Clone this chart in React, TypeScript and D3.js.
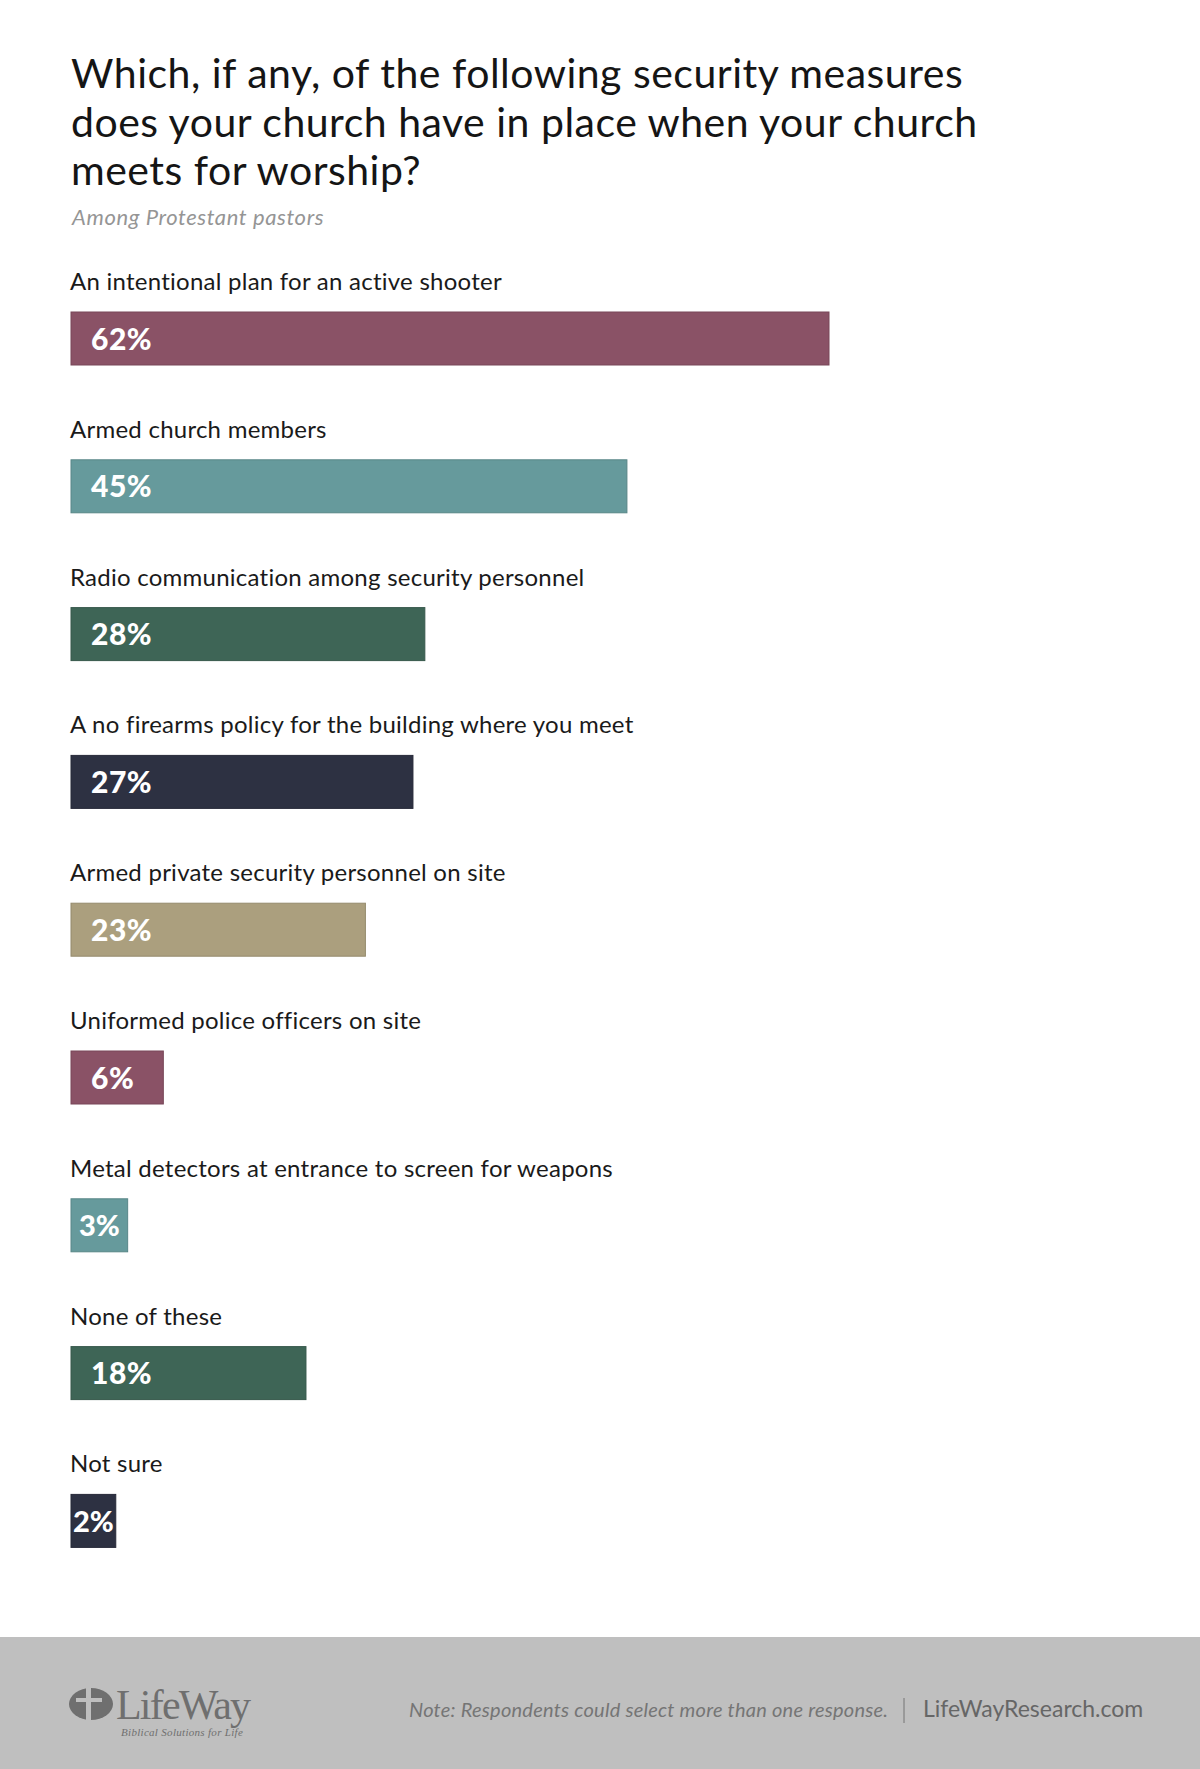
import * as d3 from "d3";

const categories = [
  "An intentional plan for an active shooter",
  "Armed church members",
  "Radio communication among security personnel",
  "A no firearms policy for the building where you meet",
  "Armed private security personnel on site",
  "Uniformed police officers on site",
  "Metal detectors at entrance to screen for weapons",
  "None of these",
  "Not sure",
];
const values = [62, 45, 28, 27, 23, 6, 3, 18, 2];
const barColors = [
  "#8a5266",
  "#669a9c",
  "#3e6556",
  "#2d3142",
  "#ab9f7e",
  "#8a5266",
  "#669a9c",
  "#3e6556",
  "#2d3142",
];

const titleLines = [
  "Which, if any, of the following security measures",
  "does your church have in place when your church",
  "meets for worship?",
];
const subtitle = "Among Protestant pastors";
const note = "Note: Respondents could select more than one response.";
const site = "LifeWayResearch.com";

const W = 1200;
const H = 1769;
const left = 71;
const font = "Lato, 'Open Sans', sans-serif";

export default function App() {
  // rangées : libellé au-dessus, barre en dessous
  const y = d3
    .scaleBand<string>()
    .domain(categories)
    .range([290, 290 + categories.length * 147.8]);

  const x = d3
    .scaleLinear()
    .domain([0, d3.max(values) || 0])
    .range([21, 758]);

  const barH = 53;

  return (
    <svg
      width={W}
      height={H}
      style={{ display: "block", position: "absolute", left: 0, top: 0 }}
    >
      <rect width={W} height={H} fill="#ffffff" />

      {titleLines.map((t, i) => (
        <text
          key={t}
          x={left}
          y={88 + i * 48.5}
          fontFamily={font}
          fontSize={41}
          letterSpacing={0.5}
          fill="#151515"
        >
          {t}
        </text>
      ))}
      <text
        x={left + 1}
        y={225}
        fontFamily={font}
        fontSize={22}
        fontStyle="italic"
        letterSpacing={0.6}
        fill="#959595"
      >
        {subtitle}
      </text>

      {categories.map((c, i) => {
        const top = (y(c) || 0) + 22;
        const w = x(values[i]);
        const narrow = w < 80;
        return (
          <g key={c}>
            <text
              x={left - 1}
              y={y(c) || 0}
              fontFamily={font}
              fontSize={24}
              letterSpacing={0.25}
              fill="#1a1a1a"
            >
              {c}
            </text>
            <rect
              x={left}
              y={top}
              width={w}
              height={barH}
              fill={barColors[i]}
              stroke={d3.color(barColors[i])?.darker(0.4).toString()}
              strokeWidth={1}
            />
            <text
              x={narrow ? left + w / 2 : left + 20}
              y={top + barH / 2 + 11}
              textAnchor={narrow ? "middle" : "start"}
              fontFamily={font}
              fontSize={narrow ? 29 : 30}
              fontWeight={900}
              letterSpacing={narrow ? 0 : 0.5}
              fill="#ffffff"
            >
              {values[i]}%
            </text>
          </g>
        );
      })}

      {/* pied de page */}
      <rect x={0} y={1637} width={W} height={H - 1637} fill="#bfbfbf" />
      <ellipse cx={91} cy={1704} rx={22} ry={16} fill="#6f6f6f" />
      <rect x={86} y={1686} width={5} height={36} fill="#bfbfbf" />
      <rect x={76} y={1698} width={26} height={4} fill="#bfbfbf" />
      <text
        x={116}
        y={1719}
        fontFamily="'Liberation Serif', 'DejaVu Serif', serif"
        fontSize={42}
        fill="#6f6f6f"
        letterSpacing={-1.8}
      >
        LifeWay
      </text>
      <text
        x={121}
        y={1736}
        fontFamily="'Liberation Serif', serif"
        fontSize={11}
        fontStyle="italic"
        letterSpacing={0.3}
        fill="#6f6f6f"
      >
        Biblical Solutions for Life
      </text>
      <text
        x={409}
        y={1717}
        fontFamily={font}
        fontSize={20}
        fontStyle="italic"
        letterSpacing={0.25}
        fill="#757575"
      >
        {note}
      </text>
      <line x1={904} x2={904} y1={1698} y2={1723} stroke="#757575" strokeWidth={1} />
      <text x={923} y={1717} fontFamily={font} fontSize={23} fill="#666666">
        {site}
      </text>
    </svg>
  );
}
